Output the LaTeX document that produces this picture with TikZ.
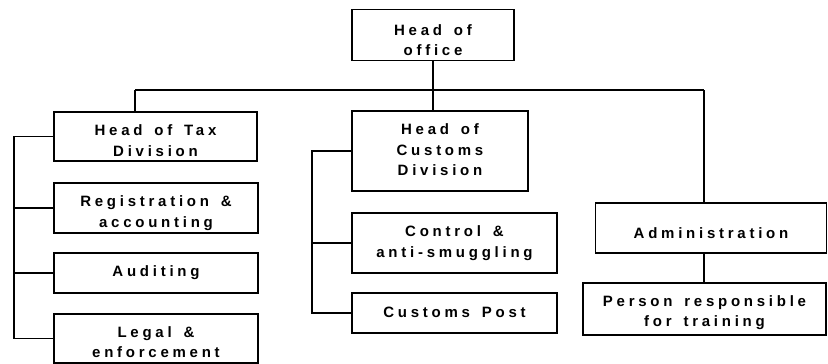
\documentclass[tikz,border=0pt]{standalone}
\usepackage{fontspec}
\setmainfont{Liberation Sans}[LetterSpace=25,WordSpace=1.5]
\begin{document}
\begin{tikzpicture}[x=1pt,y=-1pt,
  box/.style={draw, line width=1.3pt, inner sep=0pt},
  lbl/.style={inner sep=0pt, align=center,
    font=\fontsize{15}{20.5}\selectfont\bfseries},
  conn/.style={line width=1.3pt}]
\useasboundingbox (0,0) rectangle (828,364);
\node[box, minimum width=162, minimum height=51, label={[lbl,yshift=-5]center:{Head of\\office}}] (office) at (433,35) {};
\node[box, minimum width=203, minimum height=49, label={[lbl,yshift=-4]center:{Head of Tax\\Division}}] (tax) at (155.5,136.5) {};
\node[box, minimum width=204, minimum height=50, label={[lbl,yshift=-5]center:{Registration \&\\accounting}}] (reg) at (156,208) {};
\node[box, minimum width=204, minimum height=40, label={[lbl]center:{Auditing}}] (aud) at (156,273) {};
\node[box, minimum width=204, minimum height=49, label={[lbl,yshift=-3.5]center:{Legal \&\\enforcement}}] (legal) at (156,338.5) {};
\node[box, minimum width=176, minimum height=80, label={[lbl,yshift=1]center:{Head of\\Customs\\Division}}] (cust) at (440,151) {};
\node[box, minimum width=205, minimum height=60, label={[lbl]center:{Control \&\\anti-smuggling}}] (ctrl) at (454.5,243) {};
\node[box, minimum width=205, minimum height=40, label={[lbl,yshift=1]center:{Customs Post}}] (post) at (454.5,313) {};
\node[box, minimum width=231, minimum height=50, label={[lbl,yshift=-5]center:{Administration}}] (admin) at (711,228) {};
\node[box, minimum width=243, minimum height=52, label={[lbl,yshift=-3.5]center:{Person responsible\\for training}}] (person) at (704.5,309) {};
\coordinate (busL) at (135,90);
\coordinate (busR) at (704,90);
\coordinate (taxL) at (14,0);
\coordinate (custL) at (312,0);
\draw[conn] (office.south) -- (office.south |- busL);
\draw[conn] (busL) -- (busR);
\draw[conn] (busL) -- (busL |- tax.north);
\draw[conn] (office.south |- busL) -- (office.south |- cust.north);
\draw[conn] (busR) -- (busR |- admin.north);
\draw[conn] (busR |- admin.south) -- (busR |- person.north);
\draw[conn] (tax.west) -- (taxL |- tax.west) -- (taxL |- legal.west) -- (legal.west);
\draw[conn] (taxL |- reg.west) -- (reg.west);
\draw[conn] (taxL |- aud.west) -- (aud.west);
\draw[conn] (cust.west) -- (custL |- cust.west) -- (custL |- post.west) -- (post.west);
\draw[conn] (custL |- ctrl.west) -- (ctrl.west);
\end{tikzpicture}
\end{document}
